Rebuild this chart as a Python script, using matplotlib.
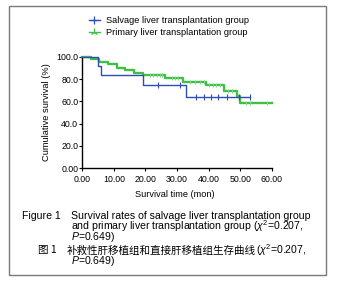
import numpy as np
import matplotlib
matplotlib.use("Agg")
import matplotlib.pyplot as plt
from matplotlib.lines import Line2D
from matplotlib.patches import Rectangle

plt.rcParams['font.family'] = ['Liberation Sans', 'DejaVu Sans']
plt.rcParams['mathtext.fontset'] = 'custom'
plt.rcParams['mathtext.rm'] = 'Liberation Sans'
plt.rcParams['mathtext.it'] = 'Liberation Sans:italic'
plt.rcParams['mathtext.bf'] = 'Liberation Sans:bold'

# ---- data ----
salvage_times = [0, 5.1, 5.9, 19.1, 32.8]
salvage_surv = [100, 91.7, 83.3, 75.0, 64.3]
salvage_end = 53.1
salvage_censor = [24.0, 30.9, 36.0, 38.6, 40.9, 43.1, 45.9, 49.6, 53.1]

primary_times = [0, 2.7, 5.3, 8.1, 11.1, 13.6, 16.4, 19.1, 26.2, 31.9, 39.1, 45.0, 48.9, 49.9]
primary_surv = [100, 97.7, 95.3, 93.0, 90.2, 87.8, 85.7, 83.6, 80.6, 77.6, 74.4, 69.5, 64.8, 58.2]
primary_end = 60.0
primary_censor = [21.4, 22.5, 23.6, 24.6, 25.3, 28.3, 29.4, 30.4, 34.1, 35.7, 37.3, 38.4,
                  40.1, 41.3, 42.3, 43.6, 46.1, 47.3, 51.9, 53.1, 58.4]

group_labels = ['Salvage liver transplantation group', 'Primary liver transplantation group']
x_ticks = [0, 10, 20, 30, 40, 50, 60]
x_ticklabels = ['0.00', '10.00', '20.00', '30.00', '40.00', '50.00', '60.00']
y_ticks = [0, 20, 40, 60, 80, 100]
y_ticklabels = ['0.00', '20.0', '40.0', '60.0', '80.0', '100.0']

blue = '#2f4cb4'
green = '#3fbf45'

fig = plt.figure(figsize=(3.38, 2.83), dpi=100)
ax = fig.add_axes([0.2435, 0.4053, 0.5604, 0.3944])


def step_value(times, surv, t):
    idx = np.searchsorted(np.asarray(times), t, side='right') - 1
    return np.asarray(surv)[idx]


# primary curve (green)
pt = list(primary_times) + [primary_end]
ps = list(primary_surv) + [primary_surv[-1]]
ax.step(pt, ps, where='post', color=green, lw=1.7, clip_on=False, zorder=2)
ax.plot(primary_censor, step_value(primary_times, primary_surv, primary_censor),
        ls='none', marker='|', ms=3, mew=0.7, color='#7fd884', clip_on=False, zorder=2)

# salvage curve (blue)
st = list(salvage_times) + [salvage_end]
ss = list(salvage_surv) + [salvage_surv[-1]]
ax.step(st, ss, where='post', color=blue, lw=1.0, clip_on=False, zorder=3)
ax.plot(salvage_censor, step_value(salvage_times, salvage_surv, salvage_censor),
        ls='none', marker='|', ms=4, mew=0.8, color=blue, clip_on=False, zorder=3)

ax.set_xlim(0, 60)
ax.set_ylim(0, 100)
for s in ['top', 'right']:
    ax.spines[s].set_visible(False)
for s in ['left', 'bottom']:
    ax.spines[s].set_linewidth(1.0)
ax.set_xticks(x_ticks)
ax.set_xticklabels(x_ticklabels)
ax.set_yticks(y_ticks)
ax.set_yticklabels(y_ticklabels)
ax.tick_params(axis='both', length=2.5, width=0.8, labelsize=6.3, direction='out')
ax.tick_params(axis='y', pad=0.5)
ax.tick_params(axis='x', pad=2.5)

ax.set_xlabel('Survival time (mon)', fontsize=6.6)
ax.xaxis.set_label_coords(0.49, -0.233)
ax.xaxis.label.set_va('center')
ax.set_ylabel('Cumulative survival (%)', fontsize=6.7)
ax.yaxis.set_label_coords(-0.19, 0.5)
ax.yaxis.label.set_va('center')
ax.yaxis.label.set_ha('center')

handles = [Line2D([], [], color=blue, lw=1.0, marker='+', ms=6, mew=0.9),
           Line2D([], [], color=green, lw=1.0, marker='2', ms=6, mew=0.9)]
fig.legend(handles, group_labels, loc='center left', bbox_to_anchor=(0.262, 0.905),
           frameon=False, fontsize=6.7, handlelength=1.25, handletextpad=0.65,
           labelspacing=0.32, borderpad=0, borderaxespad=0)

# figure frame
fig.patches.append(Rectangle((0.0266, 0.0283), 0.937, 0.9494, transform=fig.transFigure,
                             fill=False, edgecolor='#7a7a7a', lw=1.0))

cap_fs = 7.6
cn_fs = 7.6
H = 283.0
W = 338.0


def fy(px):
    return 1 - px / H


fig.text(21.7 / W, fy(219.3), 'Figure 1', fontsize=cap_fs, va='baseline')
fig.text(70.7 / W, fy(219.3), 'Survival rates of salvage liver transplantation group',
         fontsize=cap_fs, va='baseline')
fig.text(70.7 / W, fy(229.5), r'and primary liver transplantation group ($\chi^2$=0.207,',
         fontsize=cap_fs, va='baseline')
fig.text(70.7 / W, fy(239.8), r'$P$=0.649)', fontsize=cap_fs, va='baseline')

fig.text(38.3 / W, fy(253.5), '图 1', fontsize=cn_fs, va='baseline',
         family=['Noto Sans CJK SC'])
cn = fig.text(66.7 / W, fy(253.5), '补救性肝移植组和直接肝移植组生存曲线', fontsize=cn_fs,
              va='baseline', family=['Noto Sans CJK SC'])
renderer = fig.canvas.get_renderer()
bb = cn.get_window_extent(renderer)
x_after = bb.x1 / fig.bbox.width
fig.text(x_after, fy(253.5), r'($\chi^2$=0.207,', fontsize=cap_fs, va='baseline')
fig.text(70.7 / W, fy(263.5), r'$P$=0.649)', fontsize=cap_fs, va='baseline')

fig.savefig('out.png', dpi=100)
